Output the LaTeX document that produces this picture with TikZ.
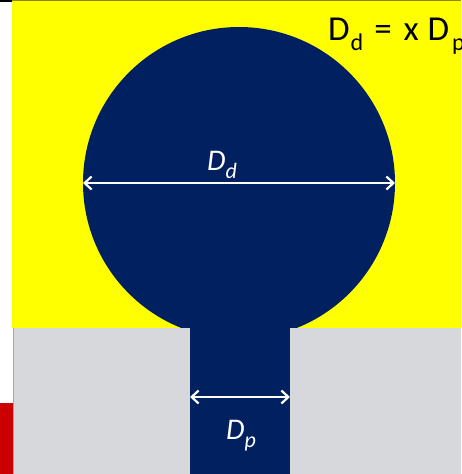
\documentclass[tikz,border=0pt]{standalone}
\usepackage{fontspec}
\setmainfont{Carlito}
\usetikzlibrary{arrows.meta}

\definecolor{padyellow}{HTML}{FFFF00}
\definecolor{dropblue}{HTML}{002060}
\definecolor{holegray}{HTML}{D7D8DC}
\definecolor{edgegray}{HTML}{A6A6A6}
\definecolor{tabred}{HTML}{CC0000}
\newcommand{\lowsub}[3]{\raisebox{-#1}{\fontsize{#2}{#2}\selectfont #3}}

\tikzset{
  dimline/.style={draw=white, line width=2.4pt,
    {Straight Barb[length=7pt,width=13pt,line width=2.2pt]}-{Straight Barb[length=7pt,width=13pt,line width=2.2pt]}},
  labeltext/.style={font=\fontsize{30}{36}\selectfont, inner sep=0pt},
  ratiotext/.style={font=\fontsize{35}{42}\selectfont, inner sep=0pt}
}

\begin{document}
\begin{tikzpicture}[x=1pt,y=-1pt]
        \useasboundingbox (0,0) rectangle (461,474);
        \fill [white] (0,0) rectangle (461,474);
        % substrate and plate
        \fill [padyellow] (12,0) rectangle (461,328);
        \draw [olive, line width=1pt] (12,0.5) -- (461,0.5);
        \fill [black] (0,0) rectangle (12,2);
        \fill [tabred] (0,403) rectangle (13,474);
        % droplet and pore
        \fill [dropblue] (239,183) circle [radius=156pt];
        \fill [dropblue] (190,300) rectangle (290,474);
        \fill [holegray] (13,328) rectangle (190,474);
        \fill [holegray] (290,328) rectangle (461,474);
        \draw [edgegray, line width=0.8pt] (13,328) -- (13,474);
        % dimensions
        \coordinate (dropL) at (83,183);
        \coordinate (dropR) at (395,183);
        \coordinate (poreL) at (190,397);
        \coordinate (poreR) at (290,397);
        \draw [dimline] (dropL) -- (dropR);
        \draw [dimline] (poreL) -- (poreR);
        \node [labeltext, white, anchor=base] (ddlabel) at (222,170) {\textit{D}\lowsub{8pt}{22}{\textit{d}}};
        \node [labeltext, white, anchor=base] (dplabel) at (241,439) {\textit{D}\lowsub{8pt}{22}{\textit{p}}};
        \node [ratiotext, black, anchor=base west] (ratio) at (328,40)
          {D\hspace{1pt}\lowsub{10pt}{24}{d}\hspace{3pt} = \hspace{4pt}x\hspace{1pt} D\hspace{3pt}\lowsub{10pt}{24}{p}};
    \end{tikzpicture}
\end{document}
